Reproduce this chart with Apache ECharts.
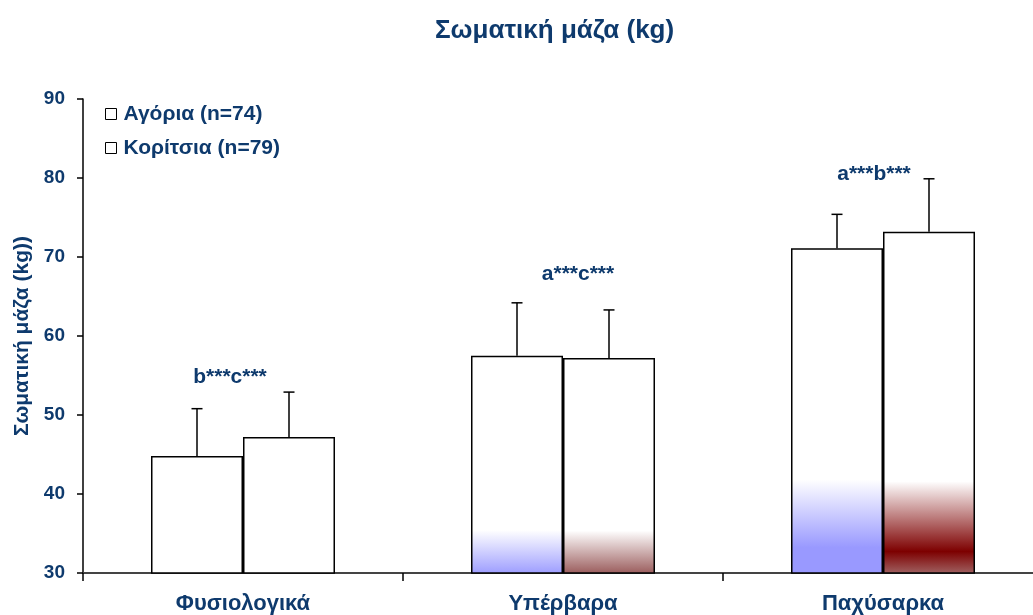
<!DOCTYPE html>
<html>
<head>
<meta charset="utf-8">
<script src="https://cdn.jsdelivr.net/npm/echarts@6/dist/echarts.min.js"></script>
<style>html,body{margin:0;padding:0;background:#fff}#c{width:1033px;height:615px}</style>
</head>
<body>
<div id="c"></div>
<script>
// ---- data ----
const categories = ['Φυσιολογικά', 'Υπέρβαρα', 'Παχύσαρκα'];
const seriesNames = ['Αγόρια (n=74)', 'Κορίτσια (n=79)'];
const boysMean = [44.8, 57.5, 71.1];
const boysSD = [6.0, 6.7, 4.3];
const girlsMean = [47.2, 57.2, 73.2];
const girlsSD = [5.7, 6.1, 6.7];
const annotations = ['b***c***', 'a***c***', 'a***b***'];
const annotationY = [54.8, 67.8, 80.5];
const yTicks = [30, 40, 50, 60, 70, 80, 90];

// ---- styles ----
const TXT = '#0e3a6d';
const FONT = 'Liberation Sans, Arial, sans-serif';
const annotationDx = [-13, 15, -9];
function grad(stops) {
  return { type: 'linear', x: 0, y: 0, x2: 0, y2: 1,
    colorStops: stops.map(s => ({ offset: s[0], color: s[1] })) };
}
const boysFill = [
  '#ffffff',
  grad([[0, '#ffffff'], [0.8, '#ffffff'], [1, '#9d9dff']]),
  grad([[0, '#ffffff'], [0.71, '#ffffff'], [0.92, '#9999ff'], [1, '#9999ff']])
];
const girlsFill = [
  '#ffffff',
  grad([[0, '#ffffff'], [0.8, '#ffffff'], [1, '#9a5c5c']]),
  grad([[0, '#ffffff'], [0.73, '#ffffff'], [0.935, '#7d0000'], [1, '#a06262']])
];
const barBorder = { borderColor: '#000', borderWidth: 1.5 };
const CAT_GAP = 0.425;

function barData(vals, fills) {
  return vals.map((v, i) => ({ value: v, itemStyle: Object.assign({ color: fills[i] }, barBorder) }));
}
function errData(means, sds) {
  return means.map((m, i) => [i, m, sds[i]]);
}
function errRender(sign) {
  return function (params, api) {
    const cat = api.value(0), m = api.value(1), sd = api.value(2);
    const band = api.size([1, 0])[0];
    const off = sign * band * (1 - CAT_GAP) / 4;
    const p0 = api.coord([cat, m]);
    const p1 = api.coord([cat, m + sd]);
    const x = p0[0] + off;
    const cap = 5.5;
    const st = { stroke: '#000', lineWidth: 1.5 };
    return { type: 'group', children: [
      { type: 'line', shape: { x1: x, y1: p0[1], x2: x, y2: p1[1] }, style: st },
      { type: 'line', shape: { x1: x - cap, y1: p1[1], x2: x + cap, y2: p1[1] }, style: st }
    ]};
  };
}

const chart = echarts.init(document.getElementById('c'), null, { renderer: 'canvas' });
chart.setOption({
  backgroundColor: '#fff',
  animation: false,
  textStyle: { fontFamily: FONT },
  title: {
    text: 'Σωματική μάζα (kg)', left: 430, top: 13,
    textStyle: { fontFamily: FONT, fontSize: 26, fontWeight: 'bold', color: TXT }
  },
  legend: {
    data: seriesNames, orient: 'vertical', left: 105, top: 103, padding: 0,
    itemWidth: 11, itemHeight: 11, itemGap: 12, icon: 'rect',
    itemStyle: { color: '#fff', borderColor: '#000', borderWidth: 1 },
    textStyle: { fontFamily: FONT, fontSize: 21, fontWeight: 'bold', color: TXT, lineHeight: 22, padding: [0, 0, 0, 2] }
  },
  grid: { left: 83, right: -10, top: 99, bottom: 42, containLabel: false, outerBoundsMode: 'none' },
  xAxis: {
    type: 'category', data: categories,
    axisLine: { lineStyle: { color: '#444', width: 2 } },
    axisTick: { show: true, length: 8, lineStyle: { color: '#000', width: 1.5 } },
    axisLabel: { margin: 20, fontFamily: FONT, fontSize: 22, fontWeight: 'bold', color: TXT }
  },
  yAxis: {
    type: 'value', min: 30, max: 90, interval: 10,
    name: 'Σωματική μάζα (kg))', nameLocation: 'middle', nameGap: 50, nameRotate: 90,
    nameTextStyle: { fontFamily: FONT, fontSize: 21, fontWeight: 'bold', color: TXT },
    splitLine: { show: false },
    axisLine: { show: true, lineStyle: { color: '#000', width: 1.5 } },
    axisTick: { show: true, length: 6, lineStyle: { color: '#000', width: 1.5 } },
    axisLabel: { margin: 18, fontFamily: FONT, fontSize: 19, fontWeight: 'bold', color: TXT,
      customValues: yTicks }
  },
  series: [
    { name: seriesNames[0], type: 'bar', barGap: '0%', barCategoryGap: (CAT_GAP * 100) + '%',
      data: barData(boysMean, boysFill), z: 2 },
    { name: seriesNames[1], type: 'bar', barGap: '0%', barCategoryGap: (CAT_GAP * 100) + '%',
      data: barData(girlsMean, girlsFill), z: 2 },
    { type: 'custom', renderItem: errRender(-1), data: errData(boysMean, boysSD), z: 3, silent: true },
    { type: 'custom', renderItem: errRender(1), data: errData(girlsMean, girlsSD), z: 3, silent: true },
    { type: 'scatter', symbolSize: 0, silent: true, z: 4, itemStyle: { opacity: 1 },
      data: annotations.map((t, i) => ({ value: [i, annotationY[i]], name: t,
        label: { offset: [annotationDx[i], 0] } })),
      label: { show: true, position: 'inside', formatter: p => p.name,
        fontFamily: FONT, fontSize: 21, fontWeight: 'bold', color: TXT } }
  ]
});
</script>
</body>
</html>
